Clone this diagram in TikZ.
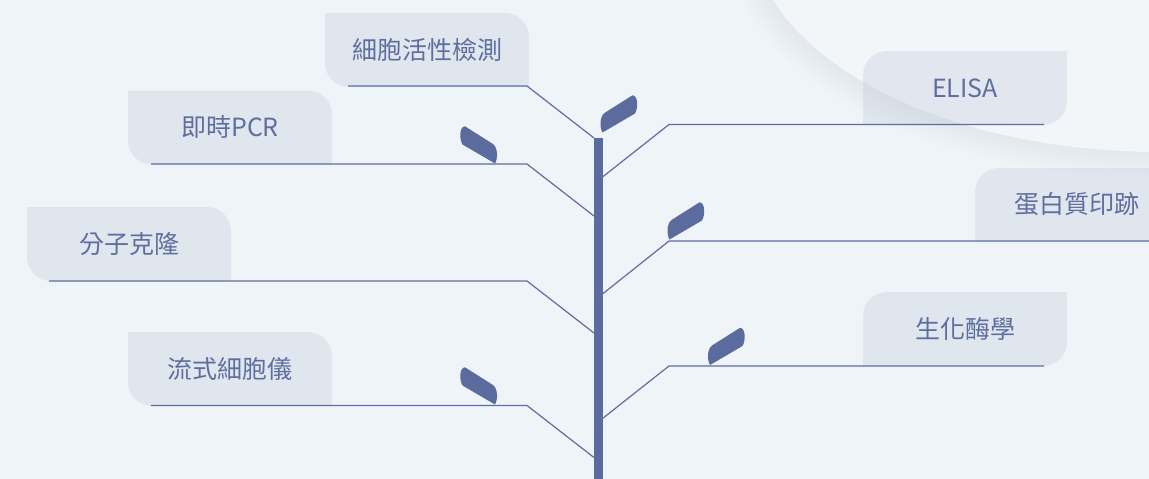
\documentclass[tikz,border=0pt]{standalone}
\usepackage{fontspec}
\usetikzlibrary{calc}
\newfontfamily\cjk{Noto Sans CJK TC}
\definecolor{bgc}{HTML}{EFF4F8}
\definecolor{innerc}{HTML}{F2F6F9}
\definecolor{shadowc}{HTML}{8E9BBE}
\definecolor{boxc}{HTML}{B3BED4}
\definecolor{stemc}{HTML}{5B6B9E}
\definecolor{linec}{HTML}{5D6DA2}
\definecolor{txtc}{HTML}{5F6E9F}
\newcommand{\leafpath}{(0,0) -- (-32.5,-19) .. controls (-36,-25) and (-35.5,-37) .. (-30,-37.2) -- (-2,-19.5) .. controls (3,-15.5) and (3,-5) .. (0,0) -- cycle}
\tikzset{
  lbl/.style={font=\cjk\fontsize{25}{29}\selectfont, text=txtc, inner sep=0pt},
  conn/.style={draw=linec, line width=1.2pt, line join=miter},
  leaffill/.style={fill=stemc},
  lbox/.pic={\fill[boxc, fill opacity=0.25] (0,0) -- (180,0) .. controls (193.25,0) and (204,10.75) .. (204,24) -- (204,74) -- (24,74) .. controls (10.75,74) and (0,63.25) .. (0,50) -- cycle;},
  rbox/.pic={\fill[boxc, fill opacity=0.25] (24,0) -- (204,0) -- (204,50) .. controls (204,63.25) and (193.25,74) .. (180,74) -- (0,74) -- (0,24) .. controls (0,10.75) and (10.75,0) .. (24,0) -- cycle;}
}
\begin{document}
\begin{tikzpicture}[x=1pt,y=-1pt]
\useasboundingbox (0,0) rectangle (1149,479);
\fill[bgc] (0,0) rectangle (1149,479);
\begin{scope}
\clip (0,0) rectangle (1149,479);
% soft shadow of the large curved shape
\foreach \i in {1,...,12} {
  \fill[shadowc, opacity=0.0045] ($(1160,-72.8)+(-0.4*\i,0.4*\i)$) ellipse[x radius=409pt+1.8pt*\i, y radius=224.8pt+1.8pt*\i];
}
\fill[innerc] (1160,-72.8) ellipse[x radius=409pt, y radius=224.8pt];
% boxes
\pic at (325,13) {lbox};
\pic at (128,90.5) {lbox};
\pic at (27,207) {lbox};
\pic at (128,332) {lbox};
\pic at (863,51) {rbox};
\pic at (975,168) {rbox};
\pic at (863,292) {rbox};
% labels
\node[lbl] (t1) at (427,49.5) {細胞活性檢測};
\node[lbl] (t2) at (230,127) {即時PCR};
\node[lbl] (t3) at (129,244) {分子克隆};
\node[lbl] (t4) at (230,369) {流式細胞儀};
\node[lbl] (t5) at (965,88) {ELISA};
\node[lbl] (t6) at (1077,204.5) {蛋白質印跡};
\node[lbl] (t7) at (965,329) {生化酶學};
% trunk
\fill[stemc] (594,138) rectangle (602.5,479);
% connector points
\coordinate (a1) at (348,86);    \coordinate (b1) at (527,86);    \coordinate (c1) at (594,138);
\coordinate (a2) at (151,164);   \coordinate (b2) at (527,164);   \coordinate (c2) at (594,216);
\coordinate (a3) at (49,281);    \coordinate (b3) at (527,281);   \coordinate (c3) at (594,333);
\coordinate (a4) at (151,405.5); \coordinate (b4) at (527,405.5); \coordinate (c4) at (594,457.5);
\coordinate (a5) at (602.5,177);   \coordinate (b5) at (669,124.5); \coordinate (c5) at (1044,124.5);
\coordinate (a6) at (602.5,294);   \coordinate (b6) at (669,241);   \coordinate (c6) at (1149,241);
\coordinate (a7) at (602.5,418.5); \coordinate (b7) at (669,366);   \coordinate (c7) at (1044,366);
\draw[conn] (a1) -- (b1) -- (c1);
\draw[conn] (a2) -- (b2) -- (c2);
\draw[conn] (a3) -- (b3) -- (c3);
\draw[conn] (a4) -- (b4) -- (c4);
\draw[conn] (a5) -- (b5) -- (c5);
\draw[conn] (a6) -- (b6) -- (c6);
\draw[conn] (a7) -- (b7) -- (c7);
% leaves
\begin{scope}[shift={(495,163.5)}] \fill[leaffill] \leafpath; \end{scope}
\begin{scope}[shift={(495,404.5)}] \fill[leaffill] \leafpath; \end{scope}
\begin{scope}[shift={(602.5,132.5)}, xscale=-1] \fill[leaffill] \leafpath; \end{scope}
\begin{scope}[shift={(669.5,239.5)}, xscale=-1] \fill[leaffill] \leafpath; \end{scope}
\begin{scope}[shift={(710,365)}, xscale=-1] \fill[leaffill] \leafpath; \end{scope}
\end{scope}
\end{tikzpicture}
\end{document}
